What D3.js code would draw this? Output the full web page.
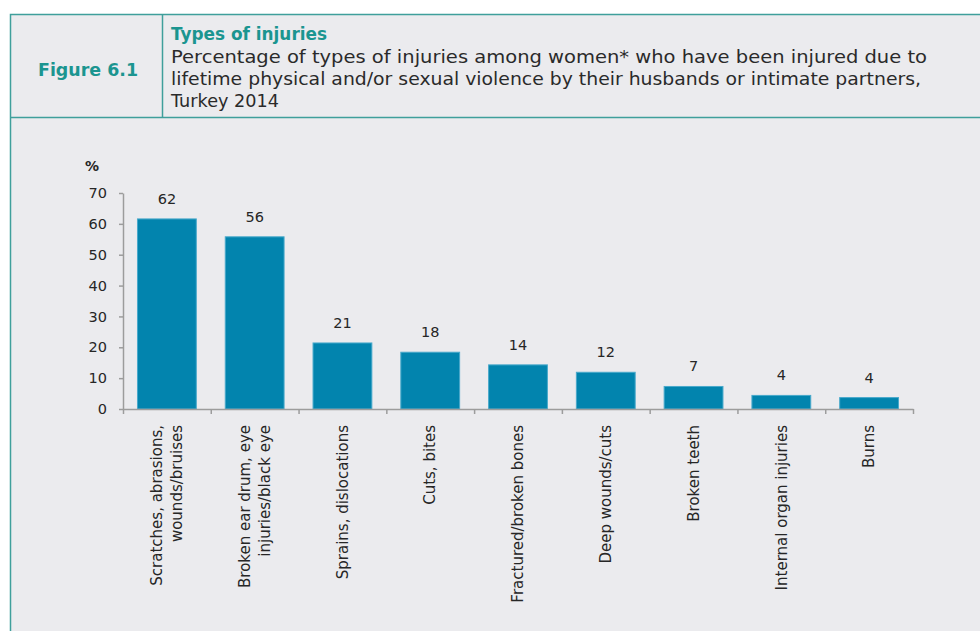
<!DOCTYPE html>
<html>
<head>
<meta charset="utf-8">
<script src="https://cdn.jsdelivr.net/npm/d3@7"></script>
<style>
  body { margin: 0; background: #fff; }
  svg { display: block; font-family: "DejaVu Sans", sans-serif; }
  .axis path, .axis line { stroke: #9c9c9c; stroke-width: 1.5; }
</style>
</head>
<body>
<svg id="chart" width="980" height="631"></svg>
<script>
(function(){

// data
let categories = [
  ["Scratches, abrasions,", "wounds/bruises"],
  ["Broken ear drum, eye", "injuries/black eye"],
  ["Sprains, dislocations"],
  ["Cuts, bites"],
  ["Fractured/broken bones"],
  ["Deep wounds/cuts"],
  ["Broken teeth"],
  ["Internal organ injuries"],
  ["Burns"]
];
let values = [61.6, 55.8, 21.4, 18.4, 14.3, 11.9, 7.3, 4.4, 3.7];
let yTicks = [0, 10, 20, 30, 40, 50, 60, 70];

let titleText = "Types of injuries";
let figureText = "Figure 6.1";
let subtitleLines = [
  "Percentage of types of injuries among women* who have been injured due to",
  "lifetime physical and/or sexual violence by their husbands or intimate partners,",
  "Turkey 2014"
];
let subtitleWidths = [756, 750, 108];

let svg = d3.select("#chart");
let teal = "#3f9f9b";

// panel + header box
svg.append("rect")
  .attr("x", 10.5).attr("y", 14.5)
  .attr("width", 980).attr("height", 640)
  .attr("fill", "#ebebee")
  .attr("stroke", teal).attr("stroke-width", 1.5);

svg.append("line")
  .attr("x1", 10).attr("x2", 980)
  .attr("y1", 117.5).attr("y2", 117.5)
  .attr("stroke", teal).attr("stroke-width", 1.5);

svg.append("line")
  .attr("x1", 162.5).attr("x2", 162.5)
  .attr("y1", 14).attr("y2", 117.5)
  .attr("stroke", teal).attr("stroke-width", 1.5);

svg.append("text")
  .attr("x", 38).attr("y", 76)
  .attr("textLength", 100).attr("lengthAdjust", "spacingAndGlyphs")
  .attr("fill", "#1b9590")
  .style("font-weight", "bold").style("font-size", "18px")
  .text(figureText);

svg.append("text")
  .attr("x", 171).attr("y", 40)
  .attr("textLength", 156).attr("lengthAdjust", "spacingAndGlyphs")
  .attr("fill", "#1b9590")
  .style("font-weight", "bold").style("font-size", "18px")
  .text(titleText);

svg.selectAll(".subtitle")
  .data(subtitleLines)
  .enter()
  .append("text")
  .attr("class", "subtitle")
  .attr("x", 171)
  .attr("y", (d, i) => 63 + i * 22)
  .attr("textLength", (d, i) => subtitleWidths[i])
  .attr("lengthAdjust", "spacingAndGlyphs")
  .attr("fill", "#2a2a2a")
  .style("font-size", "17px")
  .text(d => d);

// chart area
let margin = {top: 193, left: 123},
  width = 790,
  height = 216;

let g = svg.append("g")
  .attr("transform", "translate(" + margin.left + "," + margin.top + ")");

let x = d3.scaleBand()
  .domain(d3.range(values.length))
  .range([0, width])
  .paddingInner(0.33)
  .paddingOuter(0.165);

let xEdges = d3.scaleLinear()
  .domain([0, values.length])
  .range([0, width]);

let y = d3.scaleLinear()
  .domain([0, 70])
  .range([height, 0]);

// y axis
let yAxis = g.append("g")
  .attr("class", "axis")
  .call(d3.axisLeft(y).tickValues(yTicks).tickSize(4).tickPadding(12).tickSizeOuter(0));

yAxis.selectAll("text")
  .attr("fill", "#262626")
  .style("font-family", "'DejaVu Sans', sans-serif")
  .style("font-size", "14.5px");

// bars
g.selectAll(".bar")
  .data(values)
  .enter()
  .append("rect")
  .attr("class", "bar")
  .attr("x", (d, i) => x(i))
  .attr("y", d => y(d))
  .attr("width", x.bandwidth())
  .attr("height", d => height - y(d))
  .attr("fill", "#0284ae")
  .attr("stroke", "#48a9cb")
  .attr("stroke-width", 1);

// value labels
g.selectAll(".value")
  .data(values)
  .enter()
  .append("text")
  .attr("class", "value")
  .attr("x", (d, i) => x(i) + x.bandwidth() / 2)
  .attr("y", d => y(d) - 15)
  .attr("text-anchor", "middle")
  .attr("fill", "#262626")
  .style("font-size", "14.5px")
  .text(d => d3.format(".0f")(d));

// x axis with ticks on category boundaries
g.append("g")
  .attr("class", "axis")
  .attr("transform", "translate(0," + height + ")")
  .call(d3.axisBottom(xEdges).tickValues(d3.range(values.length + 1)).tickFormat("").tickSize(5).tickSizeOuter(0));

// category labels, rotated
let labels = g.selectAll(".cat")
  .data(categories)
  .enter()
  .append("text")
  .attr("class", "cat")
  .attr("transform", (d, i) =>
    "translate(" + (x(i) + x.bandwidth() / 2) + "," + (height + 16) + ") rotate(-90)")
  .attr("text-anchor", "end")
  .attr("fill", "#262626")
  .style("font-size", "15px");

labels.each(function(d) {
  let t = d3.select(this);
  let offset = -(d.length - 1) * 10;
  d.forEach((line, j) => {
    t.append("tspan")
      .attr("x", 0)
      .attr("y", offset + j * 20)
      .attr("dy", "0.35em")
      .text(line);
  });
});

// unit label
svg.append("text")
  .attr("x", 92).attr("y", 171)
  .attr("text-anchor", "middle")
  .attr("fill", "#262626")
  .style("font-size", "14px").style("font-weight", "bold")
  .text("%");

})();
</script>
</body>
</html>
